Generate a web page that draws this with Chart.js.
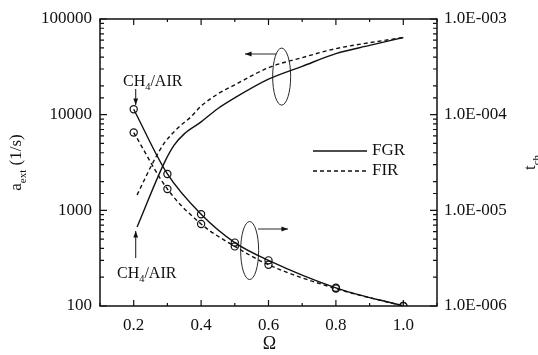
<!DOCTYPE html>
<html>
<head>
<meta charset="utf-8">
<script src="https://cdn.jsdelivr.net/npm/chart.js@4/dist/chart.umd.min.js"></script>
<style>
  html, body { margin: 0; padding: 0; background: #fff; }
  canvas { display: block; }
</style>
</head>
<body>
<canvas id="chart" width="538" height="355"></canvas>
<script>
// a_ext curves (left axis)
const aextFgrOmega = [0.21, 0.29, 0.32, 0.35, 0.4, 0.45, 0.5, 0.6, 0.7, 0.8, 0.9, 1.0];
const aextFgr = [670, 3100, 4800, 6300, 8400, 11600, 15000, 23500, 32000, 43500, 53000, 64000];
const aextFirOmega = [0.21, 0.26, 0.29, 0.33, 0.37, 0.4, 0.45, 0.5, 0.6, 0.7, 0.8, 0.9, 1.0];
const aextFir = [1450, 3300, 5000, 7200, 9500, 12300, 16500, 20500, 31000, 39500, 49000, 56500, 64000];

// chemical time curves (right axis), with circles
const tchOmega = [0.2, 0.3, 0.4, 0.5, 0.6, 0.8, 1.0];
const tchFgr = [1.14e-4, 2.4e-5, 9.1e-6, 4.6e-6, 3.0e-6, 1.55e-6, 1.0e-6];
const tchFir = [6.5e-5, 1.67e-5, 7.2e-6, 4.2e-6, 2.7e-6, 1.52e-6, 1.0e-6];

const leftTicks = [100, 1000, 10000, 100000];
const rightTicks = [1e-6, 1e-5, 1e-4, 1e-3];
const xLabels = [0.2, 0.4, 0.6, 0.8, 1.0];

const FONT = '"Liberation Serif", "DejaVu Serif", serif';
const INK = "#111";

const pts = (xs, ys) => xs.map((x, i) => ({ x: x, y: ys[i] }));
const isDecade = v => Math.abs(Math.log10(v) - Math.round(Math.log10(v))) < 1e-6;

function arrow(ctx, x1, y1, x2, y2) {
  const a = Math.atan2(y2 - y1, x2 - x1);
  ctx.beginPath();
  ctx.moveTo(x1, y1);
  ctx.lineTo(x2, y2);
  ctx.stroke();
  ctx.beginPath();
  ctx.moveTo(x2, y2);
  ctx.lineTo(x2 - 7 * Math.cos(a - 0.35), y2 - 7 * Math.sin(a - 0.35));
  ctx.lineTo(x2 - 7 * Math.cos(a + 0.35), y2 - 7 * Math.sin(a + 0.35));
  ctx.closePath();
  ctx.fill();
}

// text with a subscript part, drawn left to right from x
function subText(ctx, parts, x, y, size) {
  let cx = x;
  parts.forEach(p => {
    const s = p.sub ? size * 0.65 : size;
    ctx.font = s + "px " + FONT;
    ctx.fillText(p.t, cx, y + (p.sub ? size * 0.28 : 0));
    cx += ctx.measureText(p.t).width;
  });
}
function subWidth(ctx, parts, size) {
  let w = 0;
  parts.forEach(p => {
    ctx.font = (p.sub ? size * 0.65 : size) + "px " + FONT;
    w += ctx.measureText(p.t).width;
  });
  return w;
}

const decor = {
  id: "decor",
  afterDatasetsDraw(chart) {
    const ctx = chart.ctx;
    const a = chart.chartArea;
    const x = chart.scales.x, yl = chart.scales.y, yr = chart.scales.y2;
    ctx.save();
    ctx.strokeStyle = INK;
    ctx.fillStyle = INK;

    // frame
    ctx.lineWidth = 1.5;
    ctx.strokeRect(a.left, a.top, a.right - a.left, a.bottom - a.top);

    // inward ticks
    ctx.lineWidth = 1.2;
    ctx.beginPath();
    x.ticks.forEach(t => {
      const px = x.getPixelForValue(t.value);
      const k = Math.round(t.value * 10);
      const len = k % 2 === 0 ? 6 : 3;
      ctx.moveTo(px, a.bottom); ctx.lineTo(px, a.bottom - len);
      ctx.moveTo(px, a.top); ctx.lineTo(px, a.top + len);
    });
    yl.ticks.forEach(t => {
      const py = yl.getPixelForValue(t.value);
      const len = isDecade(t.value) ? 7 : 4;
      ctx.moveTo(a.left, py); ctx.lineTo(a.left + len, py);
    });
    yr.ticks.forEach(t => {
      const py = yr.getPixelForValue(t.value);
      const len = isDecade(t.value) ? 7 : 4;
      ctx.moveTo(a.right, py); ctx.lineTo(a.right - len, py);
    });
    ctx.stroke();

    // axis titles
    ctx.textBaseline = "alphabetic";
    const lt = [{ t: "a" }, { t: "ext", sub: true }, { t: " (1/s)" }];
    ctx.save();
    ctx.translate(21, (a.top + a.bottom) / 2);
    ctx.rotate(-Math.PI / 2);
    subText(ctx, lt, -subWidth(ctx, lt, 17) / 2, 0, 17);
    ctx.restore();

    const rt = [{ t: "t" }, { t: "ch", sub: true }];
    ctx.save();
    ctx.translate(535, (a.top + a.bottom) / 2);
    ctx.rotate(-Math.PI / 2);
    subText(ctx, rt, -subWidth(ctx, rt, 17) / 2, 0, 17);
    ctx.restore();

    ctx.font = "18px " + FONT;
    ctx.textAlign = "center";
    ctx.textBaseline = "middle";
    ctx.fillText("\u03A9", (a.left + a.right) / 2 + 1, 344);
    ctx.textAlign = "left";
    ctx.textBaseline = "alphabetic";

    // CH4/AIR labels and arrows
    const ch = [{ t: "CH" }, { t: "4", sub: true }, { t: "/AIR" }];
    subText(ctx, ch, 123, 86, 16);
    subText(ctx, ch, 117, 278, 16);
    ctx.lineWidth = 1;
    const ax = x.getPixelForValue(0.206);
    arrow(ctx, ax, 89, ax, 105);
    arrow(ctx, ax, 258, ax, 231);

    // ellipses with arrows
    ctx.lineWidth = 0.9;
    ctx.beginPath();
    ctx.ellipse(x.getPixelForValue(0.639), yl.getPixelForValue(25000), 9, 28.5, 0, 0, Math.PI * 2);
    ctx.stroke();
    ctx.beginPath();
    ctx.ellipse(x.getPixelForValue(0.544), yr.getPixelForValue(3.8e-6), 9, 29, 0, 0, Math.PI * 2);
    ctx.stroke();
    arrow(ctx, 276, 54, 245, 54);
    arrow(ctx, 258, 229, 288, 229);

    // legend
    ctx.lineWidth = 1.4;
    ctx.beginPath();
    ctx.moveTo(313, 151); ctx.lineTo(367, 151);
    ctx.stroke();
    ctx.setLineDash([4, 3]);
    ctx.beginPath();
    ctx.moveTo(313, 171); ctx.lineTo(367, 171);
    ctx.stroke();
    ctx.setLineDash([]);
    ctx.font = "17px " + FONT;
    ctx.textBaseline = "middle";
    ctx.fillText("FGR", 372, 151);
    ctx.fillText("FIR", 372, 171);

    ctx.restore();
  }
};

const lineStyle = {
  borderColor: INK,
  borderWidth: 1.4,
  fill: false,
  cubicInterpolationMode: "monotone",
  pointRadius: 0
};
const circleStyle = {
  pointRadius: 3.6,
  pointStyle: "circle",
  pointBorderColor: INK,
  pointBackgroundColor: "rgba(255,255,255,0)",
  pointBorderWidth: 1.2
};

new Chart(document.getElementById("chart"), {
  type: "line",
  data: {
    datasets: [
      { label: "a_ext FGR", data: pts(aextFgrOmega, aextFgr), yAxisID: "y", ...lineStyle },
      { label: "a_ext FIR", data: pts(aextFirOmega, aextFir), yAxisID: "y", ...lineStyle, borderDash: [4, 3] },
      { label: "t_ch FGR", data: pts(tchOmega, tchFgr), yAxisID: "y2", ...lineStyle, ...circleStyle },
      { label: "t_ch FIR", data: pts(tchOmega, tchFir), yAxisID: "y2", ...lineStyle, ...circleStyle, borderDash: [4, 3] }
    ]
  },
  options: {
    responsive: false,
    animation: false,
    devicePixelRatio: 1,
    layout: { padding: { top: 19, left: 0, right: 0, bottom: 0 } },
    plugins: { legend: { display: false }, tooltip: { enabled: false } },
    scales: {
      x: {
        type: "linear",
        min: 0.1,
        max: 1.1,
        grid: { display: false, drawTicks: false },
        border: { display: false },
        ticks: {
          stepSize: 0.1,
          autoSkip: false,
          maxRotation: 0,
          padding: 9,
          color: INK,
          font: { family: FONT, size: 17 },
          callback: v => {
            const hit = xLabels.find(l => Math.abs(l - v) < 1e-6);
            return hit !== undefined ? hit.toFixed(1) : "";
          }
        },
        afterFit: s => { s.height = 49; }
      },
      y: {
        type: "logarithmic",
        position: "left",
        min: 100,
        max: 100000,
        grid: { display: false, drawTicks: false },
        border: { display: false },
        ticks: {
          autoSkip: false,
          padding: 8,
          color: INK,
          font: { family: FONT, size: 17 },
          callback: v => leftTicks.some(t => Math.abs(t - v) / t < 1e-6) ? String(Math.round(v)) : ""
        },
        afterFit: s => { s.width = 100; }
      },
      y2: {
        type: "logarithmic",
        position: "right",
        min: 1e-6,
        max: 1e-3,
        grid: { display: false, drawTicks: false },
        border: { display: false },
        ticks: {
          autoSkip: false,
          padding: 7,
          color: INK,
          font: { family: FONT, size: 17 },
          callback: v => {
            if (!rightTicks.some(t => Math.abs(t - v) / t < 1e-6)) return "";
            const e = Math.round(Math.log10(v));
            return "1.0E-" + String(-e).padStart(3, "0");
          }
        },
        afterFit: s => { s.width = 101; }
      }
    }
  },
  plugins: [decor]
});
</script>
</body>
</html>
